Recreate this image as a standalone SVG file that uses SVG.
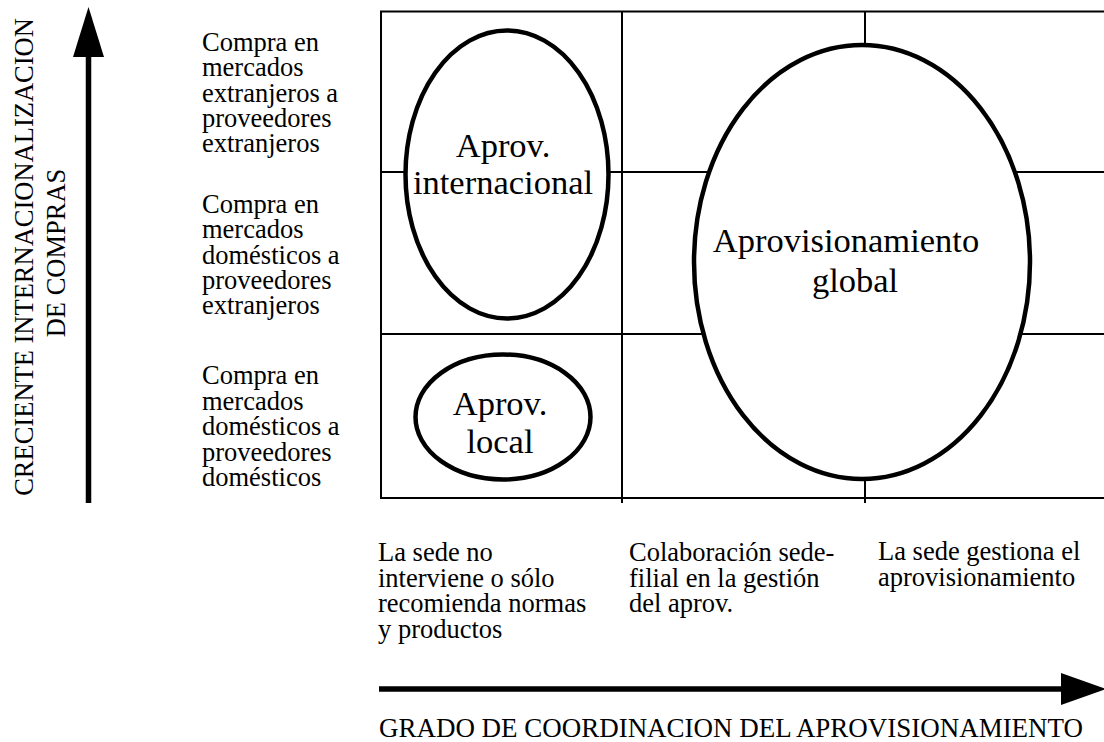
<svg xmlns="http://www.w3.org/2000/svg" width="1104" height="742" viewBox="0 0 1104 742" font-family="'Liberation Serif', serif">
<style>
.s{font-size:26.5px;font-family:'Liberation Serif',serif}
.m{font-size:26.5px;font-family:'Liberation Serif',serif}
.b{font-size:34.5px;font-family:'Liberation Serif',serif}
.grid{stroke:#000;stroke-width:2;fill:none}
.ell{stroke:#000;stroke-width:4.5;fill:#fff}
.ax{stroke:#000;stroke-width:5.5;fill:none}
</style>
<rect width="1104" height="742" fill="#fff"/>
<g id="grid">
<path class="grid" d="M1104 11.5H381V498H1104M381 172H1104M381 334H1104M622 11V503M865 11V503"/>
</g>
<g id="aprov-internacional">
<ellipse class="ell" cx="507" cy="174.5" rx="101.5" ry="144"/>
<text class="b" x="503" y="157" text-anchor="middle">Aprov.</text>
<text class="b" x="503" y="194" text-anchor="middle">internacional</text>
</g>
<g id="aprov-local">
<ellipse class="ell" cx="503" cy="417" rx="87.5" ry="62.5"/>
<text class="b" x="500" y="415" text-anchor="middle">Aprov.</text>
<text class="b" x="500" y="453" text-anchor="middle">local</text>
</g>
<g id="aprov-global">
<ellipse class="ell" cx="862" cy="262" rx="168" ry="217"/>
<text class="b" x="846" y="252" text-anchor="middle">Aprovisionamiento</text>
<text class="b" x="855" y="292" text-anchor="middle">global</text>
</g>
<g id="connectors">
<path class="ax" d="M88.5 503V54"/>
<polygon points="73,57 88.5,7 104,57" fill="#000"/>
<path class="ax" d="M379 689H1063" stroke-width="6"/>
<polygon points="1061,673 1106,689 1061,705" fill="#000"/>
</g>
<g id="y-axis-label">
<text class="s" transform="translate(33 257) rotate(-90)" text-anchor="middle">CRECIENTE INTERNACIONALIZACION</text>
<text class="s" transform="translate(65 253) rotate(-90)" text-anchor="middle">DE COMPRAS</text>
</g>
<g id="row-labels">
<text class="m" x="202" y="51">Compra en<tspan x="202" dy="25.3">mercados</tspan><tspan x="202" dy="25.3">extranjeros a</tspan><tspan x="202" dy="25.3">proveedores</tspan><tspan x="202" dy="25.3">extranjeros</tspan></text>
<text class="m" x="202" y="213">Compra en<tspan x="202" dy="25.3">mercados</tspan><tspan x="202" dy="25.3">domésticos a</tspan><tspan x="202" dy="25.3">proveedores</tspan><tspan x="202" dy="25.3">extranjeros</tspan></text>
<text class="m" x="202" y="384">Compra en<tspan x="202" dy="25.5">mercados</tspan><tspan x="202" dy="25.5">domésticos a</tspan><tspan x="202" dy="25.5">proveedores</tspan><tspan x="202" dy="25.5">domésticos</tspan></text>
</g>
<g id="column-labels">
<text class="m" x="378" y="561">La sede no<tspan x="378" dy="25.5">interviene o sólo</tspan><tspan x="378" dy="25.5">recomienda normas</tspan><tspan x="378" dy="25.5">y productos</tspan></text>
<text class="m" x="629" y="561">Colaboración sede-<tspan x="629" dy="25.5">filial en la gestión</tspan><tspan x="629" dy="25.5">del aprov.</tspan></text>
<text class="m" x="878" y="560">La sede gestiona el<tspan x="878" dy="25.5">aprovisionamiento</tspan></text>
</g>
<g id="x-axis-label">
<text class="s" x="379" y="737" textLength="704" lengthAdjust="spacingAndGlyphs">GRADO DE COORDINACION DEL APROVISIONAMIENTO</text>
</g>
</svg>
